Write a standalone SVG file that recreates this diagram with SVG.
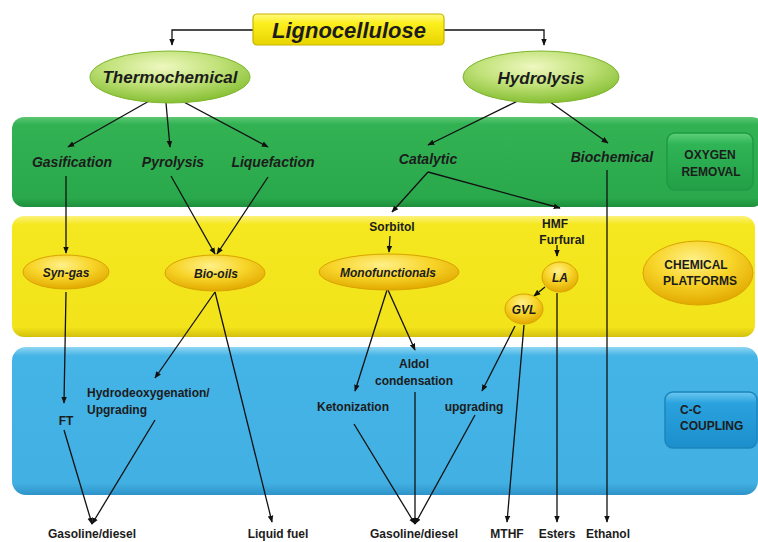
<svg xmlns="http://www.w3.org/2000/svg" width="758" height="542" viewBox="0 0 758 542">
<style>
.bi{font-family:"Liberation Sans",Arial,sans-serif;font-weight:bold;font-style:italic;fill:#1c1c1c;text-anchor:middle}
.b{font-family:"Liberation Sans",Arial,sans-serif;font-weight:bold;fill:#1c1c1c;text-anchor:middle}
.s{text-anchor:start}
.l{fill:none;stroke:#111;stroke-width:1.3}
</style>
<defs>
<marker id="ah" viewBox="0 0 10 10" refX="9" refY="5" markerWidth="7" markerHeight="7" orient="auto" markerUnits="userSpaceOnUse">
<path d="M0,1 L10,5 L0,9 Z" fill="#111"/>
</marker>
<linearGradient id="gBand" x1="0" y1="0" x2="0" y2="1">
<stop offset="0" stop-color="#5cc872"/><stop offset="0.08" stop-color="#33b254"/><stop offset="0.9" stop-color="#2aa94c"/><stop offset="1" stop-color="#1e8e3c"/>
</linearGradient>
<linearGradient id="yBand" x1="0" y1="0" x2="0" y2="1">
<stop offset="0" stop-color="#fbf27a"/><stop offset="0.07" stop-color="#f5e820"/><stop offset="0.92" stop-color="#f2e31a"/><stop offset="1" stop-color="#d3c00e"/>
</linearGradient>
<linearGradient id="bBand" x1="0" y1="0" x2="0" y2="1">
<stop offset="0" stop-color="#8fd6f3"/><stop offset="0.06" stop-color="#44b3e6"/><stop offset="0.92" stop-color="#42b0e3"/><stop offset="1" stop-color="#2e93c8"/>
</linearGradient>
<radialGradient id="gEll" cx="0.45" cy="0.3" r="0.7">
<stop offset="0" stop-color="#eef8c0"/><stop offset="0.5" stop-color="#c2e27a"/><stop offset="1" stop-color="#86bf34"/>
</radialGradient>
<radialGradient id="yEll" cx="0.45" cy="0.3" r="0.7">
<stop offset="0" stop-color="#fff08a"/><stop offset="0.5" stop-color="#f8d52a"/><stop offset="1" stop-color="#e2a900"/>
</radialGradient>
<linearGradient id="lbox" x1="0" y1="0" x2="0" y2="1">
<stop offset="0" stop-color="#fffb80"/><stop offset="0.3" stop-color="#fbef1e"/><stop offset="1" stop-color="#e8d400"/>
</linearGradient>
<linearGradient id="obox" x1="0" y1="0" x2="0" y2="1">
<stop offset="0" stop-color="#5fd07a"/><stop offset="0.2" stop-color="#2fb456"/><stop offset="1" stop-color="#23a047"/>
</linearGradient>
<linearGradient id="cbox" x1="0" y1="0" x2="0" y2="1">
<stop offset="0" stop-color="#6cc8f0"/><stop offset="0.2" stop-color="#2aa2de"/><stop offset="1" stop-color="#1b8fcc"/>
</linearGradient>
</defs>
<rect width="758" height="542" fill="#fff"/>

<g id="band-oxygen">
<rect x="12" y="117" width="752" height="90" rx="12" fill="url(#gBand)"/>
</g>
<g id="band-platforms">
<rect x="12" y="216" width="743" height="121" rx="12" fill="url(#yBand)"/>
</g>
<g id="band-coupling">
<rect x="12" y="347" width="746" height="148" rx="14" fill="url(#bBand)"/>
</g>

<g id="connectors">
<path class="l" d="M253,30 H172 V45" marker-end="url(#ah)"/>
<path class="l" d="M443,30 H544 V45" marker-end="url(#ah)"/>
<path class="l" d="M165,92 L68,147" marker-end="url(#ah)"/>
<path class="l" d="M165,92 L170,147" marker-end="url(#ah)"/>
<path class="l" d="M165,92 L268,147" marker-end="url(#ah)"/>
<path class="l" d="M536,92 L428,145" marker-end="url(#ah)"/>
<path class="l" d="M536,92 L608,143" marker-end="url(#ah)"/>
<path class="l" d="M428,172 L392,212" marker-end="url(#ah)"/>
<path class="l" d="M428,172 L560,208" marker-end="url(#ah)"/>
<path class="l" d="M607,170 V522" marker-end="url(#ah)"/>
<path class="l" d="M66,176 V253" marker-end="url(#ah)"/>
<path class="l" d="M171,176 L215,254" marker-end="url(#ah)"/>
<path class="l" d="M268,177 L217,254" marker-end="url(#ah)"/>
<path class="l" d="M390,236 L389,252" marker-end="url(#ah)"/>
<path class="l" d="M557,245 V256" marker-end="url(#ah)"/>
<path class="l" d="M545,287 L534,296" marker-end="url(#ah)"/>
<path class="l" d="M66,292 L64,403" marker-end="url(#ah)"/>
<path class="l" d="M215,292 L155,378" marker-end="url(#ah)"/>
<path class="l" d="M215,292 L272,522" marker-end="url(#ah)"/>
<path class="l" d="M64,430 L92,524" marker-end="url(#ah)"/>
<path class="l" d="M155,420 L92,524" marker-end="url(#ah)"/>
<path class="l" d="M387,290 L355,391" marker-end="url(#ah)"/>
<path class="l" d="M388,290 L415,350" marker-end="url(#ah)"/>
<path class="l" d="M515,326 L482,391" marker-end="url(#ah)"/>
<path class="l" d="M524,325 L507,522" marker-end="url(#ah)"/>
<path class="l" d="M557,293 V522" marker-end="url(#ah)"/>
<path class="l" d="M354,424 L415,524" marker-end="url(#ah)"/>
<path class="l" d="M415,392 V524" marker-end="url(#ah)"/>
<path class="l" d="M475,415 L415,524" marker-end="url(#ah)"/>
</g>

<g id="lignocellulose">
<rect x="253" y="14" width="191" height="31" rx="4" fill="url(#lbox)" stroke="#c9b400" stroke-width="1.2"/>
<text class="bi" x="349" y="38" font-size="22">Lignocellulose</text>
</g>
<g id="thermochemical">
<ellipse cx="170" cy="77" rx="80" ry="26" fill="url(#gEll)" stroke="#7eb52e" stroke-width="1"/>
<text class="bi" x="170" y="83" font-size="17">Thermochemical</text>
</g>
<g id="hydrolysis">
<ellipse cx="541" cy="77" rx="78" ry="26" fill="url(#gEll)" stroke="#7eb52e" stroke-width="1"/>
<text class="bi" x="541" y="84" font-size="17">Hydrolysis</text>
</g>

<g id="gasification"><text class="bi" x="72" y="167" font-size="14">Gasification</text></g>
<g id="pyrolysis"><text class="bi" x="173" y="167" font-size="14">Pyrolysis</text></g>
<g id="liquefaction"><text class="bi" x="273" y="167" font-size="14">Liquefaction</text></g>
<g id="catalytic"><text class="bi" x="428" y="164" font-size="14">Catalytic</text></g>
<g id="biochemical"><text class="bi" x="612" y="162" font-size="14">Biochemical</text></g>
<g id="oxygen-removal">
<rect x="667" y="133" width="86" height="57" rx="8" fill="url(#obox)" stroke="#1f9a44" stroke-width="1.5"/>
<text class="b" x="710" y="159" font-size="12">OXYGEN</text>
<text class="b" x="711" y="176" font-size="12">REMOVAL</text>
</g>

<g id="sorbitol"><text class="b" x="392" y="231" font-size="12">Sorbitol</text></g>
<g id="hmf-furfural">
<text class="b" x="555" y="228" font-size="12">HMF</text>
<text class="b" x="562" y="244" font-size="12">Furfural</text>
</g>
<g id="syn-gas">
<ellipse cx="66" cy="272" rx="43" ry="17" fill="url(#yEll)" stroke="#d9a300" stroke-width="1"/>
<text class="bi" x="66" y="277" font-size="12">Syn-gas</text>
</g>
<g id="bio-oils">
<ellipse cx="215" cy="273" rx="50" ry="18" fill="url(#yEll)" stroke="#d9a300" stroke-width="1"/>
<text class="bi" x="216" y="278" font-size="12">Bio-oils</text>
</g>
<g id="monofunctionals">
<ellipse cx="389" cy="272" rx="70" ry="18" fill="url(#yEll)" stroke="#d9a300" stroke-width="1"/>
<text class="bi" x="388" y="277" font-size="12">Monofunctionals</text>
</g>
<g id="la">
<ellipse cx="560" cy="277" rx="18" ry="15" fill="url(#yEll)" stroke="#d9a300" stroke-width="1"/>
<text class="bi" x="560" y="282" font-size="12">LA</text>
</g>
<g id="gvl">
<ellipse cx="524" cy="309" rx="19" ry="15" fill="url(#yEll)" stroke="#d9a300" stroke-width="1"/>
<text class="bi" x="524" y="314" font-size="12">GVL</text>
</g>
<g id="chemical-platforms">
<ellipse cx="698" cy="273" rx="55" ry="32" fill="url(#yEll)" stroke="#d9a300" stroke-width="1"/>
<text class="b" x="696" y="269" font-size="12">CHEMICAL</text>
<text class="b" x="700" y="285" font-size="12">PLATFORMS</text>
</g>

<g id="ft"><text class="b" x="66" y="425" font-size="12">FT</text></g>
<g id="hydrodeoxygenation">
<text class="b s" x="87" y="397" font-size="12">Hydrodeoxygenation/</text>
<text class="b s" x="87" y="414" font-size="12">Upgrading</text>
</g>
<g id="aldol">
<text class="b" x="414" y="368" font-size="12">Aldol</text>
<text class="b" x="414" y="385" font-size="12">condensation</text>
</g>
<g id="ketonization"><text class="b" x="353" y="411" font-size="12">Ketonization</text></g>
<g id="upgrading"><text class="b" x="474" y="411" font-size="12">upgrading</text></g>
<g id="cc-coupling">
<rect x="665" y="392" width="92" height="56" rx="8" fill="url(#cbox)" stroke="#1b85bd" stroke-width="1.5"/>
<text class="b s" x="680" y="414" font-size="12">C-C</text>
<text class="b s" x="680" y="430" font-size="12">COUPLING</text>
</g>

<g id="out-gasoline1"><text class="b" x="92" y="538" font-size="12">Gasoline/diesel</text></g>
<g id="out-liquidfuel"><text class="b" x="278" y="538" font-size="12">Liquid fuel</text></g>
<g id="out-gasoline2"><text class="b" x="414" y="538" font-size="12">Gasoline/diesel</text></g>
<g id="out-mthf"><text class="b" x="507" y="538" font-size="12">MTHF</text></g>
<g id="out-esters"><text class="b" x="557" y="538" font-size="12">Esters</text></g>
<g id="out-ethanol"><text class="b" x="608" y="538" font-size="12">Ethanol</text></g>
</svg>
